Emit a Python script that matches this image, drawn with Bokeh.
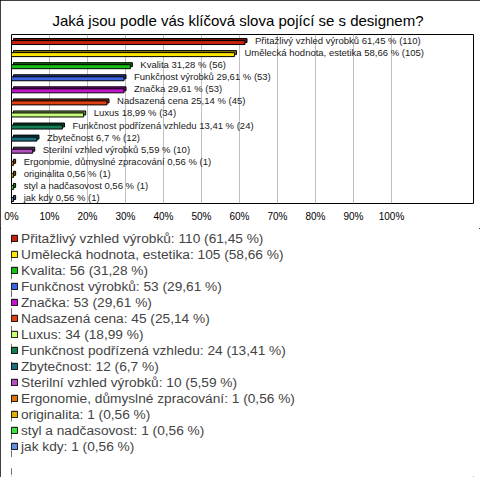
from bokeh.plotting import figure
from bokeh.layouts import column
from bokeh.models import ColumnDataSource, Range1d, FixedTicker, Legend, LegendItem, Title
from bokeh.embed import file_html
from bokeh.resources import INLINE
from bokeh.core.properties import value

title_text = "Jaká jsou podle vás klíčová slova pojící se s designem?"
categories = ["Přitažlivý vzhled výrobků", "Umělecká hodnota, estetika", "Kvalita",
              "Funkčnost výrobků", "Značka", "Nadsazená cena", "Luxus",
              "Funkčnost podřízená vzhledu", "Zbytečnost", "Sterilní vzhled výrobků",
              "Ergonomie, důmyslné zpracování", "originalita", "styl a nadčasovost", "jak kdy"]
counts = [110, 105, 56, 53, 53, 45, 34, 24, 12, 10, 1, 1, 1, 1]
percents = [61.45, 58.66, 31.28, 29.61, 29.61, 25.14, 18.99, 13.41, 6.7, 5.59, 0.56, 0.56, 0.56, 0.56]
tick_values = [0, 10, 20, 30, 40, 50, 60, 70, 80, 90, 100]
tick_labels = ["0%", "10%", "20%", "30%", "40%", "50%", "60%", "70%", "80%", "90%", "100%"]

colors = ["#c8200c", "#ffe400", "#14c014", "#3c64e0", "#c414d0", "#e04010", "#c8ff78",
          "#108050", "#1a6e80", "#b450c0", "#e07008", "#e0b000", "#40e040", "#6490e0"]

FONT = "Liberation Sans"
W, H = 480, 477
H1 = 228
H2 = H - H1
FL, FR, FT = 11, 7, 34
FW, FH = W - FL - FR, 169
FB = H1 - FT - FH
XMAX = FW / 3.8
n = len(categories)
ux = XMAX / FW
uy = n / FH


def darken(h, f=0.55):
    r, g, b = int(h[1:3], 16), int(h[3:5], 16), int(h[5:7], 16)
    return "#%02x%02x%02x" % (int(r * f), int(g * f), int(b * f))


def fmt(v):
    return ("%g" % v).replace(".", ",")


rows = [i + 0.5 for i in range(n)]
src = ColumnDataSource(dict(
    y=rows,
    yf=[r + 2 * uy for r in rows],
    left=[0] * n,
    right=percents,
    bleft=[2 * ux] * n,
    bright=[v + 2 * ux for v in percents],
    color=colors,
    dark=[darken(c) for c in colors],
    tx=[v + 2 * ux for v in percents],
    label=[f"{c} {fmt(p)} % ({k})" for c, p, k in zip(categories, percents, counts)],
))

# ---- top: bar chart ----
p = figure(width=W, height=H1, output_backend="svg", toolbar_location=None,
           x_range=Range1d(0, XMAX), y_range=Range1d(n, 0), y_axis_location=None,
           min_border_left=FL, min_border_right=FR, min_border_top=FT, min_border_bottom=FB)
p.ygrid.visible = False
p.outline_line_color = "black"
p.outline_line_width = 1
p.background_fill_color = "white"
p.border_fill_color = "white"

p.xaxis.ticker = FixedTicker(ticks=tick_values)
p.xaxis.major_label_overrides = {t: l for t, l in zip(tick_values, tick_labels)}
p.xaxis.axis_line_alpha = 0
p.xaxis.major_tick_in = 0
p.xaxis.major_tick_out = 0
p.xaxis.minor_tick_in = 0
p.xaxis.minor_tick_out = 0
p.xaxis.major_label_standoff = 7
p.xaxis.major_label_text_font = FONT
p.xaxis.major_label_text_font_size = "10px"
p.xaxis.major_label_text_color = "black"
p.xgrid.ticker = FixedTicker(ticks=tick_values)
p.xgrid.grid_line_color = "#c0c0c0"
p.xgrid.grid_line_width = 1

t = Title(text=title_text, align="left", offset=41, text_font=FONT, text_font_size="15px",
          text_font_style="normal", text_color="black", standoff=11)
p.add_layout(t, "above")

bh = 4 * uy
p.hbar(y="y", left="bleft", right="bright", height=bh, source=src,
       fill_color="dark", line_color="black", line_width=1)
p.hbar(y="yf", left="left", right="right", height=bh, source=src,
       fill_color="color", line_color="black", line_width=1)
p.text(x="tx", y="y", text="label", source=src, x_offset=8, text_align="left",
       text_baseline="middle", text_font=value(FONT), text_font_size="9.5px",
       text_color="#202020")

# ---- bottom: legend ----
p2 = figure(width=W, height=H2, output_backend="svg", toolbar_location=None,
            x_range=Range1d(1000, 1001), y_range=Range1d(n, 0),
            x_axis_location=None, y_axis_location=None,
            min_border_left=0, min_border_right=0, min_border_top=0, min_border_bottom=0)
p2.grid.visible = False
p2.outline_line_color = None
p2.background_fill_color = "white"
p2.border_fill_color = "white"
lr = p2.hbar(y="yf", left="left", right="right", height=bh, source=src,
             fill_color="color", line_color="black", line_width=1)

items = [LegendItem(label=f"{c}: {k} ({fmt(pc)} %)", renderers=[lr], index=i)
         for i, (c, k, pc) in enumerate(zip(categories, counts, percents))]
legend = Legend(items=items, location=(-1, 23), orientation="vertical",
                glyph_width=8, glyph_height=8, label_height=16, spacing=0,
                label_standoff=3, padding=0, margin=0,
                label_text_font=FONT, label_text_font_size="13.7px",
                border_line_alpha=0, background_fill_alpha=0)
p2.add_layout(legend, "center")

layout = column(p, p2, spacing=0,
                styles={"outline": "1px solid black", "outline-offset": "-1px"})
open("out.html", "w").write(file_html(layout, INLINE))
